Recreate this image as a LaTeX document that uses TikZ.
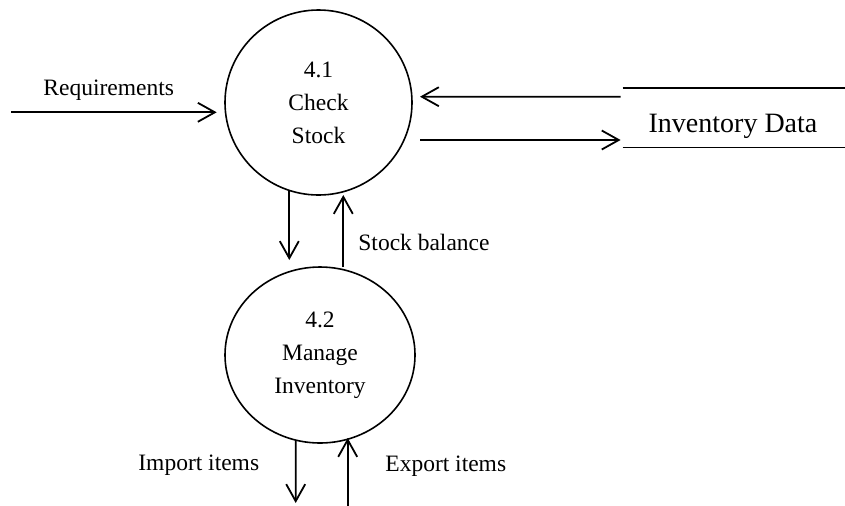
\documentclass[tikz,border=0pt]{standalone}
\usepackage{fontspec}
\setmainfont{Liberation Serif}
\usetikzlibrary{arrows.meta,shapes.geometric,calc}
\newcommand\dfdfont{\fontsize{11.75}{16.5}\selectfont}
\newcommand\storefont{\fontsize{14}{16}\selectfont}
\begin{document}
\begin{tikzpicture}[x=0.5pt,y=-0.5pt,
  proc/.style={draw, line width=0.8pt, ellipse, inner sep=0pt, align=center, font=\dfdfont},
  flow/.style={line width=0.9pt, -{Straight Barb[length=8.5pt,width=9.5pt]}},
  lbl/.style={font=\dfdfont, inner sep=0pt, anchor=base west},
  storeline/.style={line width=0.75pt}]
\useasboundingbox (0,0) rectangle (845,505);

% processes
\node[proc, minimum width=93.5pt, minimum height=92.5pt] (p1) at (318.5,102.5) {4.1\\Check\\Stock};
\node[proc, minimum width=95pt, minimum height=88pt] (p2) at (320,355) {4.2\\Manage\\Inventory};

% data store
\node[minimum width=111pt, minimum height=29.5pt, inner sep=0pt] (store) at (734,117.8) {};
\draw[storeline] (store.north west) -- (store.north east);
\draw[storeline] (store.south west) -- (store.south east);
\node[font=\storefont, anchor=base, inner sep=0pt] (storetext) at (733,132) {Inventory Data};

% external flows
\coordinate (reqin) at (11,112.3);
\coordinate (impout) at (295.7,503);
\coordinate (expin) at (347.7,506);

% flows
\draw[flow] (reqin) -- ($(p1.center)+(-101.8,9.8)$);
\node[lbl] (reqlbl) at (43,95) {Requirements};

\draw[flow] ($(store.west)+(-2,-21.1)$) -- ($(p1.center)+(101.5,-5.8)$);
\draw[flow] ($(p1.center)+(101.5,37.5)$) -- ($(store.west)+(-2,22.2)$);

\draw[flow] ($(p1.center)+(-29.2,88.5)$) -- ($(p2.center)+(-30.7,-95)$);
\draw[flow] ($(p2.center)+(23.3,-88)$) -- ($(p1.center)+(24.8,92.5)$);
\node[lbl] (ballbl) at (358,250) {Stock balance};

\draw[flow] ($(p2.center)+(-24.3,85)$) -- (impout);
\draw[flow] (expin) -- ($(p2.center)+(27.7,83)$);
\node[lbl] (implbl) at (138,470.7) {Import items};
\node[lbl] (explbl) at (385,471.7) {Export items};
\end{tikzpicture}
\end{document}
